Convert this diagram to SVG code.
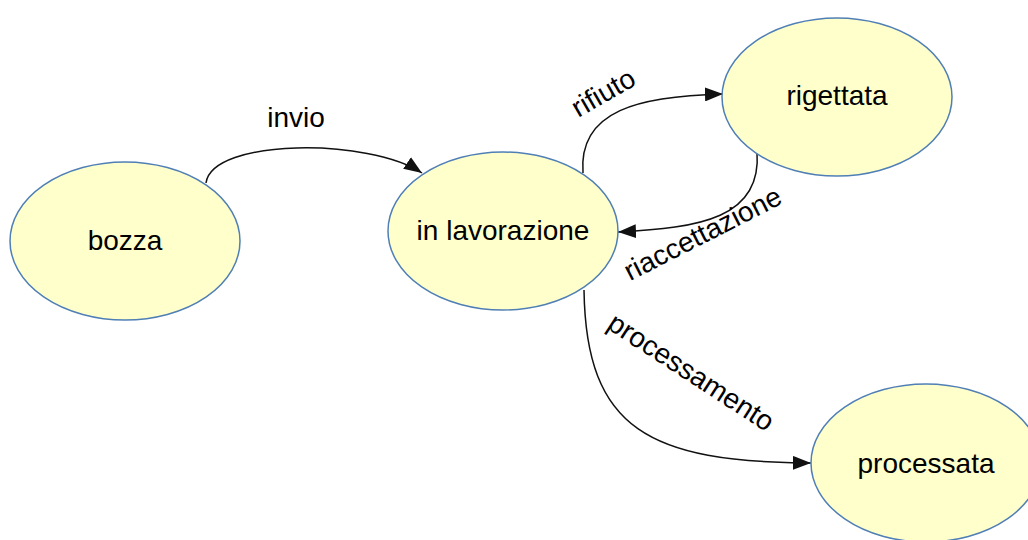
<svg xmlns="http://www.w3.org/2000/svg" width="1028" height="540" viewBox="0 0 1028 540">
<style>
.node ellipse{fill:#ffffcc;stroke:#4f7fb5;stroke-width:1.5}
text{font-family:"Liberation Sans",Arial,sans-serif;font-size:28px;fill:#000}
.node text{text-anchor:middle}
.edge path{fill:none;stroke:#111;stroke-width:1.5;marker-end:url(#arr)}
.lbl{text-anchor:middle}
</style>
<defs>
<marker id="arr" markerUnits="userSpaceOnUse" markerWidth="20" markerHeight="14" refX="18" refY="7" orient="auto">
<path d="M0,0 L18,7 L0,14 Z" fill="#111"/>
</marker>
</defs>
<rect width="1028" height="540" fill="#fff"/>
<g id="connectors" class="edge">
<path d="M206,183 C212,138 370,138 422,173"/>
<path d="M583,173 C578,110 640,96 723,94"/>
<path d="M757,152 C762,218 700,228 618,232"/>
<path d="M584,290 C586,430 650,462 811,463"/>
</g>
<g id="labels">
<text class="lbl" x="296" y="127">invio</text>
<text class="lbl" transform="translate(608,101) rotate(-30)">rifiuto</text>
<text class="lbl" transform="translate(707,242) rotate(-27)">riaccettazione</text>
<text class="lbl" transform="translate(686,380) rotate(33)">processamento</text>
</g>
<g id="bozza" class="node"><ellipse cx="125" cy="241" rx="115" ry="79"/><text x="125" y="250">bozza</text></g>
<g id="in-lavorazione" class="node"><ellipse cx="503" cy="231" rx="115" ry="79"/><text x="503" y="240">in lavorazione</text></g>
<g id="rigettata" class="node"><ellipse cx="837" cy="97" rx="115" ry="79"/><text x="837" y="105">rigettata</text></g>
<g id="processata" class="node"><ellipse cx="926" cy="463" rx="115" ry="79"/><text x="926" y="473">processata</text></g>
</svg>
